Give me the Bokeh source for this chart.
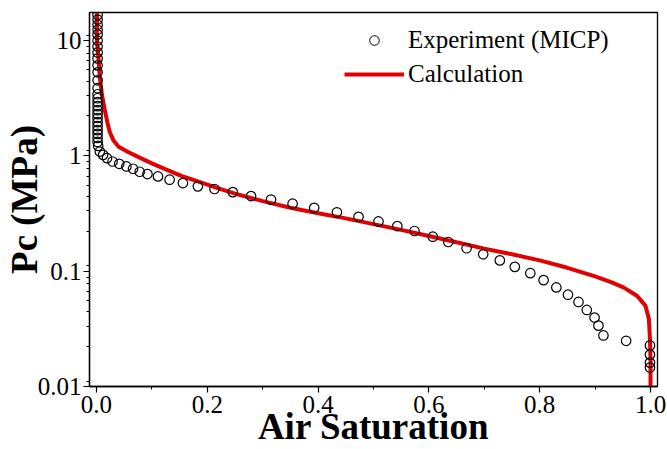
from bokeh.plotting import figure
from bokeh.models import (Range1d, Legend, LegendItem, LogTicker, BasicTicker,
                          ColumnDataSource, CustomJSTickFormatter, PrintfTickFormatter)
from bokeh.embed import file_html
from bokeh.resources import INLINE

# Experiment (MICP) data: air saturation, capillary pressure (MPa)
exp_sat = [0.002, 0.002, 0.002, 0.002, 0.002, 0.002, 0.002, 0.002, 0.002, 0.002,
           0.002, 0.002, 0.002, 0.002, 0.002, 0.002, 0.002, 0.002, 0.002, 0.002,
           0.002, 0.002, 0.002, 0.002, 0.002, 0.002, 0.003,
           0.006, 0.012, 0.019, 0.029, 0.041, 0.054, 0.066, 0.078, 0.092,
           0.111, 0.132, 0.156, 0.183, 0.213, 0.246, 0.279, 0.315, 0.354, 0.393,
           0.434, 0.473, 0.509, 0.543, 0.574, 0.607, 0.635, 0.668, 0.698, 0.728,
           0.755, 0.783, 0.807, 0.830, 0.851, 0.870, 0.885, 0.899, 0.906, 0.915,
           0.956, 0.999, 0.999, 0.999, 0.999]
exp_pc = [16.7, 15.2, 13.7, 12.4, 11.3, 10.0, 8.88, 7.88, 7.0, 6.09,
          5.3, 4.52, 3.86, 3.42, 3.16, 2.92, 2.70, 2.49, 2.30, 2.13,
          1.96, 1.81, 1.67, 1.55, 1.43, 1.32, 1.22,
          1.09, 1.02, 0.955, 0.893, 0.853, 0.809, 0.773, 0.728, 0.695,
          0.663, 0.621, 0.581, 0.544, 0.516, 0.485, 0.448, 0.418, 0.385, 0.354,
          0.324, 0.296, 0.270, 0.246, 0.223, 0.199, 0.179, 0.158, 0.140, 0.124,
          0.109, 0.0961, 0.0836, 0.0723, 0.0625, 0.0541, 0.0461, 0.0396, 0.0337, 0.0277,
          0.0249, 0.0227, 0.0189, 0.0161, 0.0146]

# Calculation curve
calc_sat = [0.001, 0.001, 0.004, 0.006, 0.010, 0.015, 0.020, 0.024, 0.031, 0.040,
            0.057, 0.077, 0.099, 0.123, 0.153, 0.183, 0.216, 0.25, 0.30, 0.35,
            0.40, 0.45, 0.50, 0.55, 0.60, 0.65, 0.70, 0.75, 0.80, 0.85,
            0.90, 0.93, 0.952, 0.976, 0.991, 0.997, 0.999, 1.0, 1.0]
calc_pc = [17.4, 10.0, 6.7, 4.8, 3.36, 2.49, 1.92, 1.61, 1.35, 1.20,
           1.08, 0.97, 0.865, 0.77, 0.67, 0.60, 0.53, 0.47, 0.405, 0.355,
           0.318, 0.287, 0.256, 0.228, 0.202, 0.178, 0.157, 0.140, 0.124, 0.107,
           0.090, 0.080, 0.072, 0.061, 0.050, 0.0386, 0.026, 0.017, 0.0095]

FONT = "Liberation Serif"

p = figure(width=667, height=449, y_axis_type="log",
           x_range=Range1d(-0.0126, 1.0126), y_range=Range1d(0.01, 17.5),
           output_backend="svg", toolbar_location=None,
           min_border_left=88, min_border_top=12, min_border_right=10, min_border_bottom=63)

p.grid.visible = False
p.outline_line_color = "black"
p.outline_line_width = 1.3
p.background_fill_color = "white"
p.border_fill_color = "white"

calc_r = p.line(calc_sat, calc_pc, line_color="#e30000", line_width=4)
exp_r = p.scatter(exp_sat, exp_pc, marker="circle", size=9.5, fill_color=None,
                  line_color="black", line_width=1.2)

# legend-only marker (small circle as in the reference legend); NaN => not drawn in plot
leg_src = ColumnDataSource(data=dict(x=[float("nan")], y=[float("nan")]))
leg_marker = p.scatter("x", "y", source=leg_src, marker="circle", size=5.5,
                       fill_color=None, line_color="black", line_width=1.0)

legend = Legend(items=[LegendItem(label="Experiment (MICP)", renderers=[leg_marker]),
                       LegendItem(label="Calculation", renderers=[calc_r])],
                location=(255, 298), glyph_width=60, glyph_height=24,
                label_standoff=4, spacing=6, padding=0, margin=0,
                label_text_font=FONT, label_text_font_size="25px",
                label_text_color="black",
                border_line_color=None, background_fill_alpha=0)
p.add_layout(legend)

p.xaxis.ticker = BasicTicker(desired_num_ticks=6, num_minor_ticks=2)
p.yaxis.ticker = LogTicker(num_minor_ticks=9)
p.xaxis.formatter = PrintfTickFormatter(format="%.1f")
p.yaxis.formatter = CustomJSTickFormatter(code="return Number(tick.toPrecision(2)).toString();")
p.xaxis.axis_label = "Air Saturation"
p.yaxis.axis_label = "Pc (MPa)"

for ax in (p.xaxis[0], p.yaxis[0]):
    ax.axis_label_text_font = FONT
    ax.axis_label_text_font_style = "bold"
    ax.axis_label_text_font_size = "37px"
    ax.axis_label_text_color = "black"
    ax.major_label_text_font = FONT
    ax.major_label_text_font_size = "25px"
    ax.major_label_text_color = "black"
    ax.axis_line_color = "black"
    ax.axis_line_width = 1.3
    ax.major_tick_line_color = "black"
    ax.minor_tick_line_color = "black"
    ax.major_tick_line_width = 1.2
    ax.minor_tick_line_width = 1.0
    ax.major_tick_out = 6
    ax.major_tick_in = 0
    ax.minor_tick_out = 3
    ax.minor_tick_in = 0

p.xaxis.axis_label_text_line_height = 0.6
p.xaxis.major_label_standoff = 3
p.xaxis.axis_label_standoff = -10
p.yaxis.major_label_standoff = 2
p.yaxis.axis_label_standoff = -10

open("out.html", "w").write(file_html(p, INLINE))
